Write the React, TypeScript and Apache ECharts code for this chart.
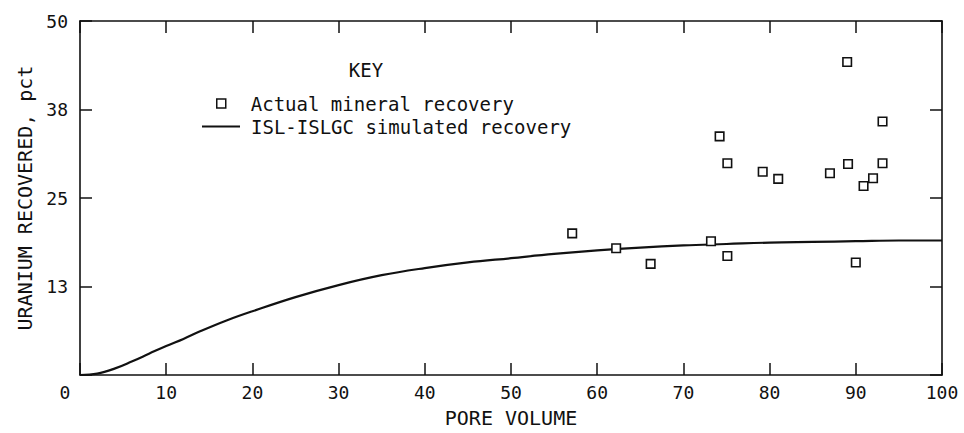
import React, { useEffect, useRef } from "react";
import * as echarts from "echarts";

// Actual mineral recovery (pore volume, pct)
const actualPoreVolume = [57.1, 62.2, 66.2, 73.2, 74.2, 75.1, 75.1, 79.2, 81.0, 87.0, 89.0, 89.1, 90.0, 90.9, 92.0, 93.1, 93.1];
const actualRecovery = [20.0, 17.9, 15.7, 18.9, 33.7, 29.9, 16.8, 28.7, 27.7, 28.5, 44.2, 29.8, 15.9, 26.7, 27.8, 35.8, 29.9];

// ISL-ISLGC simulated recovery curve
const simPoreVolume = [0, 2, 4, 6, 8, 10, 12, 14, 17, 20, 25, 30, 35, 40, 45, 50, 55, 60, 65, 70, 75, 80, 85, 90, 95, 100];
const simRecovery = [0, 0.2, 0.9, 1.9, 3.0, 4.1, 5.1, 6.2, 7.7, 9.0, 11.0, 12.7, 14.1, 15.1, 15.9, 16.5, 17.1, 17.6, 18.0, 18.3, 18.5, 18.7, 18.8, 18.9, 19.0, 19.0];

const yTickValues = [0, 12.5, 25, 37.5, 50];
const yTickLabels = ["", "13", "25", "38", "50"];

const FONT = "DejaVu Sans Mono";
const INK = "#111";

export default function App() {
  const ref = useRef<HTMLDivElement>(null);

  useEffect(() => {
    if (!ref.current) return;
    const chart = echarts.init(ref.current, undefined, { renderer: "svg" });

    const scatterData = actualPoreVolume.map((x, i) => [x, actualRecovery[i]]);
    const lineData = simPoreVolume.map((x, i) => [x, simRecovery[i]]);

    const tickCommon = () => ({
      show: true,
      inside: true,
      length: 12,
      lineStyle: { color: INK, width: 1.5 },
    });
    const axisLineCommon = () => ({ show: true, onZero: false, lineStyle: { color: INK, width: 1.6 } });

    chart.setOption({
      animation: false,
      backgroundColor: "#fff",
      title: {
        text: "KEY",
        left: 366,
        top: 60,
        textAlign: "center",
        padding: 0,
        textStyle: { fontFamily: FONT, fontSize: 19, fontWeight: "normal", color: INK },
      },
      legend: [
        {
          data: [
            {
              name: "Actual mineral recovery",
              icon: "rect",
              itemStyle: { color: "#fff", borderColor: INK, borderWidth: 1.5 },
            },
          ],
          left: 216,
          top: 94,
          padding: 0,
          itemWidth: 9,
          itemHeight: 9,
          selectedMode: false,
          textStyle: { fontFamily: FONT, fontSize: 19, color: INK, padding: [0, 0, 0, 20] },
        },
        {
          data: [
            {
              name: "ISL-ISLGC simulated recovery",
              icon: "rect",
              itemStyle: { color: INK, borderWidth: 0 },
            },
          ],
          left: 202,
          top: 117,
          padding: 0,
          itemWidth: 38,
          itemHeight: 2,
          selectedMode: false,
          textStyle: { fontFamily: FONT, fontSize: 19, color: INK, padding: [0, 0, 0, 6] },
        },
      ],
      grid: { left: 80, right: 22, top: 21, bottom: 57 },
      xAxis: [
        {
          type: "value",
          min: 0,
          max: 100,
          interval: 10,
          position: "bottom",
          name: "PORE VOLUME",
          nameLocation: "middle",
          nameGap: 33,
          nameTextStyle: { fontFamily: FONT, fontSize: 20, color: INK },
          axisLine: axisLineCommon(),
          axisTick: tickCommon(),
          splitLine: { show: false },
          axisLabel: {
            fontFamily: FONT,
            fontSize: 18,
            color: INK,
            margin: 8,
            formatter: (v: number) => (v === 0 ? "{z|0}" : String(v)),
            rich: {
              z: { fontFamily: FONT, fontSize: 18, color: INK, padding: [0, 30, 0, 0] },
            },
          },
        },
        {
          type: "value",
          min: 0,
          max: 100,
          interval: 10,
          position: "top",
          axisLine: axisLineCommon(),
          axisTick: tickCommon(),
          axisLabel: { show: false },
          splitLine: { show: false },
        },
      ],
      yAxis: [
        {
          type: "value",
          min: 0,
          max: 50,
          interval: 12.5,
          position: "left",
          name: "URANIUM RECOVERED, pct",
          nameLocation: "middle",
          nameGap: 45,
          nameRotate: 90,
          nameTextStyle: { fontFamily: FONT, fontSize: 20, color: INK },
          axisLine: axisLineCommon(),
          axisTick: tickCommon(),
          splitLine: { show: false },
          axisLabel: {
            fontFamily: FONT,
            fontSize: 18,
            color: INK,
            margin: 12,
            formatter: (v: number) => {
              const i = yTickValues.indexOf(v);
              return i >= 0 ? yTickLabels[i] : "";
            },
          },
        },
        {
          type: "value",
          min: 0,
          max: 50,
          interval: 12.5,
          position: "right",
          axisLine: axisLineCommon(),
          axisTick: tickCommon(),
          axisLabel: { show: false },
          splitLine: { show: false },
        },
      ],
      series: [
        {
          name: "ISL-ISLGC simulated recovery",
          type: "line",
          data: lineData,
          smooth: 0.4,
          symbol: "none",
          showSymbol: false,
          lineStyle: { color: INK, width: 2.2 },
          itemStyle: { color: INK },
          z: 2,
        },
        {
          name: "Actual mineral recovery",
          type: "scatter",
          data: scatterData,
          symbol: "rect",
          symbolSize: 8.5,
          itemStyle: { color: "#fff", borderColor: INK, borderWidth: 1.6, opacity: 1 },
          z: 3,
        },
      ],
    });

    return () => chart.dispose();
  }, []);

  return (
    <div
      ref={ref}
      style={{ position: "fixed", left: 0, top: 0, width: 964, height: 433, background: "#fff" }}
    />
  );
}
